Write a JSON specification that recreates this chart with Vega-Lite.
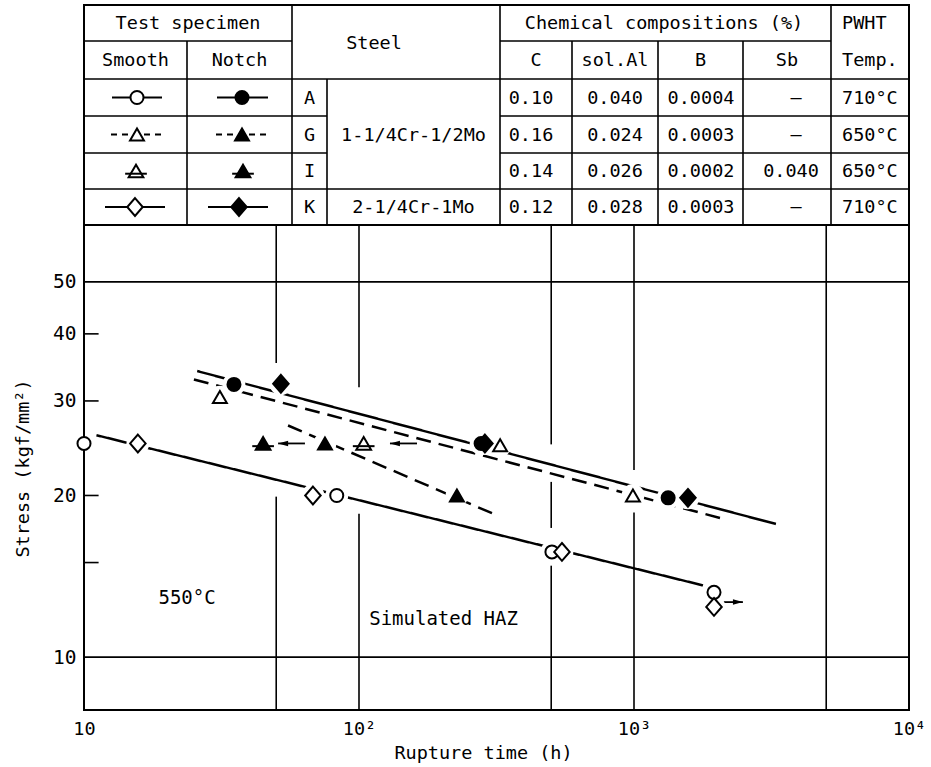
{
  "$schema": "https://vega.github.io/schema/vega-lite/v6.json",
  "padding": {"left": 12, "top": 3, "right": 0, "bottom": 0},
  "background": "white",
  "spacing": 0,
  "bounds": "flush",
  "config": {
    "view": {"stroke": "black", "strokeWidth": 2},
    "font": "DejaVu Sans Mono",
    "concat": {"spacing": 0},
    "axis": {"labelFont": "DejaVu Sans Mono", "titleFont": "DejaVu Sans Mono", "labelColor": "black", "titleColor": "black", "titleFontWeight": "normal"}
  },
  "datasets": {
    "tableLines": [
      {"x1": 0, "x2": 208, "y1": 36, "y2": 36},
      {"x1": 416, "x2": 747, "y1": 36, "y2": 36},
      {"x1": 0, "x2": 825, "y1": 74, "y2": 74},
      {"x1": 0, "x2": 243, "y1": 111, "y2": 111},
      {"x1": 416, "x2": 825, "y1": 111, "y2": 111},
      {"x1": 0, "x2": 243, "y1": 148, "y2": 148},
      {"x1": 416, "x2": 825, "y1": 148, "y2": 148},
      {"x1": 0, "x2": 825, "y1": 184, "y2": 184},
      {"x1": 103, "x2": 103, "y1": 36, "y2": 220},
      {"x1": 208, "x2": 208, "y1": 0, "y2": 220},
      {"x1": 243, "x2": 243, "y1": 74, "y2": 220},
      {"x1": 416, "x2": 416, "y1": 0, "y2": 220},
      {"x1": 488, "x2": 488, "y1": 36, "y2": 220},
      {"x1": 574, "x2": 574, "y1": 36, "y2": 220},
      {"x1": 659, "x2": 659, "y1": 36, "y2": 220},
      {"x1": 747, "x2": 747, "y1": 0, "y2": 220}
    ],
    "tableText": [
      {"text": "Test specimen", "x": 104, "y": 18, "col": "spec"},
      {"text": "Steel", "x": 290, "y": 38, "col": "steel"},
      {"text": "Chemical compositions (%)", "x": 580, "y": 18, "col": "chem"},
      {"text": "PWHT", "x": 758, "y": 18, "col": "PWHT"},
      {"text": "Smooth", "x": 51.5, "y": 55, "col": "spec"},
      {"text": "Notch", "x": 155.5, "y": 55, "col": "spec"},
      {"text": "C", "x": 452, "y": 55, "col": "C"},
      {"text": "sol.Al", "x": 531, "y": 55, "col": "Al"},
      {"text": "B", "x": 616.5, "y": 55, "col": "B"},
      {"text": "Sb", "x": 703, "y": 55, "col": "Sb"},
      {"text": "Temp.", "x": 758, "y": 55, "col": "PWHT"},
      {"text": "A", "x": 225.5, "y": 92.5, "col": "steel"},
      {"text": "G", "x": 225.5, "y": 129.5, "col": "steel"},
      {"text": "I", "x": 225.5, "y": 166, "col": "steel"},
      {"text": "K", "x": 225.5, "y": 202, "col": "steel"},
      {"text": "1-1/4Cr-1/2Mo", "x": 329.5, "y": 129.5, "col": "steel"},
      {"text": "2-1/4Cr-1Mo", "x": 329.5, "y": 202, "col": "steel"},
      {"text": "0.10", "x": 447, "y": 92.5, "col": "C"},
      {"text": "0.16", "x": 447, "y": 129.5, "col": "C"},
      {"text": "0.14", "x": 447, "y": 166, "col": "C"},
      {"text": "0.12", "x": 447, "y": 202, "col": "C"},
      {"text": "0.040", "x": 531, "y": 92.5, "col": "Al"},
      {"text": "0.024", "x": 531, "y": 129.5, "col": "Al"},
      {"text": "0.026", "x": 531, "y": 166, "col": "Al"},
      {"text": "0.028", "x": 531, "y": 202, "col": "Al"},
      {"text": "0.0004", "x": 617, "y": 92.5, "col": "B"},
      {"text": "0.0003", "x": 617, "y": 129.5, "col": "B"},
      {"text": "0.0002", "x": 617, "y": 166, "col": "B"},
      {"text": "0.0003", "x": 617, "y": 202, "col": "B"},
      {"text": "—", "x": 712, "y": 92.5, "col": "Sb"},
      {"text": "—", "x": 712, "y": 129.5, "col": "Sb"},
      {"text": "0.040", "x": 707, "y": 166, "col": "Sb"},
      {"text": "—", "x": 712, "y": 202, "col": "Sb"},
      {"text": "710°C", "x": 758, "y": 92.5, "col": "PWHT"},
      {"text": "650°C", "x": 758, "y": 129.5, "col": "PWHT"},
      {"text": "650°C", "x": 758, "y": 166, "col": "PWHT"},
      {"text": "710°C", "x": 758, "y": 202, "col": "PWHT"}
    ],
    "keyLines": [
      {"steel": "A", "specimen": "Smooth", "style": "solid", "x1": 28, "x2": 78, "y": 92.5},
      {"steel": "A", "specimen": "Notch", "style": "solid", "x1": 133, "x2": 184, "y": 92.5},
      {"steel": "G", "specimen": "Smooth", "style": "shortdash", "x1": 27, "x2": 78, "y": 129.5},
      {"steel": "G", "specimen": "Notch", "style": "shortdash", "x1": 132, "x2": 184, "y": 129.5},
      {"steel": "K", "specimen": "Smooth", "style": "solid", "x1": 21, "x2": 81, "y": 202},
      {"steel": "K", "specimen": "Notch", "style": "solid", "x1": 124, "x2": 184, "y": 202}
    ],
    "keyPoints": [
      {"steel": "A", "specimen": "Smooth", "x": 53, "y": 92.5},
      {"steel": "A", "specimen": "Notch", "x": 158, "y": 92.5},
      {"steel": "G", "specimen": "Smooth", "x": 53, "y": 129.5},
      {"steel": "G", "specimen": "Notch", "x": 158, "y": 129.5},
      {"steel": "I", "specimen": "Smooth", "x": 52, "y": 166},
      {"steel": "I", "specimen": "Notch", "x": 159, "y": 166},
      {"steel": "K", "specimen": "Smooth", "x": 51, "y": 202},
      {"steel": "K", "specimen": "Notch", "x": 155, "y": 202}
    ],
    "grid": [
      {"t1": 50, "t2": 50, "s1": 35.3, "s2": 63.8},
      {"t1": 50, "t2": 50, "s1": 7.97, "s2": 19.9},
      {"t1": 100, "t2": 100, "s1": 31.8, "s2": 63.8},
      {"t1": 100, "t2": 100, "s1": 7.97, "s2": 18.5},
      {"t1": 500, "t2": 500, "s1": 24.9, "s2": 63.8},
      {"t1": 500, "t2": 500, "s1": 17.4, "s2": 21.2},
      {"t1": 500, "t2": 500, "s1": 7.97, "s2": 14.8},
      {"t1": 1000, "t2": 1000, "s1": 22.3, "s2": 63.8},
      {"t1": 1000, "t2": 1000, "s1": 7.97, "s2": 18.6},
      {"t1": 5000, "t2": 5000, "s1": 7.97, "s2": 63.8},
      {"t1": 10, "t2": 10000, "s1": 50, "s2": 50},
      {"t1": 10, "t2": 10000, "s1": 10, "s2": 10},
      {"t1": 10, "t2": 11.3, "s1": 15, "s2": 15},
      {"t1": 10, "t2": 11.3, "s1": 20, "s2": 20},
      {"t1": 10, "t2": 11.3, "s1": 30, "s2": 30},
      {"t1": 10, "t2": 11.3, "s1": 40, "s2": 40}
    ],
    "fitLines": [
      {"line": "L1", "style": "solid", "t": 25.8, "s": 34.1},
      {"line": "L1", "style": "solid", "t": 3281, "s": 17.7},
      {"line": "L2", "style": "dashed", "t": 25.1, "s": 32.9},
      {"line": "L2", "style": "dashed", "t": 2109, "s": 18.1},
      {"line": "L3", "style": "dashed", "t": 55.2, "s": 27.0},
      {"line": "L3", "style": "dashed", "t": 307, "s": 18.5},
      {"line": "L4", "style": "solid", "t": 11.1, "s": 25.9},
      {"line": "L4", "style": "solid", "t": 1782, "s": 13.6}
    ],
    "points": [
      {"steel": "A", "specimen": "Smooth", "t": 10, "s": 25},
      {"steel": "A", "specimen": "Smooth", "t": 83, "s": 20},
      {"steel": "A", "specimen": "Smooth", "t": 503, "s": 15.7},
      {"steel": "A", "specimen": "Smooth", "t": 1954, "s": 13.2},
      {"steel": "K", "specimen": "Smooth", "t": 15.7, "s": 25},
      {"steel": "K", "specimen": "Smooth", "t": 68, "s": 20},
      {"steel": "K", "specimen": "Smooth", "t": 547, "s": 15.7},
      {"steel": "K", "specimen": "Smooth", "t": 1954, "s": 12.4},
      {"steel": "G", "specimen": "Smooth", "t": 31.2, "s": 30.5},
      {"steel": "G", "specimen": "Smooth", "t": 326, "s": 24.8},
      {"steel": "G", "specimen": "Smooth", "t": 991, "s": 20},
      {"steel": "I", "specimen": "Smooth", "t": 104, "s": 25},
      {"steel": "A", "specimen": "Notch", "t": 35.1, "s": 32.2},
      {"steel": "A", "specimen": "Notch", "t": 278, "s": 25},
      {"steel": "A", "specimen": "Notch", "t": 1331, "s": 19.8},
      {"steel": "K", "specimen": "Notch", "t": 52, "s": 32.3},
      {"steel": "K", "specimen": "Notch", "t": 287, "s": 25},
      {"steel": "K", "specimen": "Notch", "t": 1571, "s": 19.8},
      {"steel": "G", "specimen": "Notch", "t": 75.2, "s": 25},
      {"steel": "G", "specimen": "Notch", "t": 227, "s": 20},
      {"steel": "I", "specimen": "Notch", "t": 44.8, "s": 25}
    ],
    "arrows": [
      {"t1": 63.6, "t2": 50.8, "s": 25, "dir": "left"},
      {"t1": 162.5, "t2": 129.6, "s": 25, "dir": "left"},
      {"t1": 2021, "t2": 2489, "s": 12.66, "dir": "right"}
    ],
    "notes": [
      {"text": "550°C", "t": 23.7, "s": 12.9},
      {"text": "Simulated HAZ", "t": 203, "s": 11.8}
    ]
  },
  "vconcat": [
    {
      "width": 825,
      "height": 220,
      "layer": [
        {
          "data": {"name": "tableLines"},
          "mark": {"type": "rule", "stroke": "black", "strokeWidth": 1.6},
          "encoding": {
            "x": {"field": "x1", "type": "quantitative", "scale": {"domain": [0, 825], "nice": false, "zero": false}, "axis": null},
            "x2": {"field": "x2"},
            "y": {"field": "y1", "type": "quantitative", "scale": {"domain": [0, 220], "nice": false, "zero": false, "reverse": true}, "axis": null},
            "y2": {"field": "y2"}
          }
        },
        {
          "data": {"name": "tableText"},
          "transform": [{"filter": "datum.col !== 'PWHT'"}],
          "mark": {"type": "text", "font": "DejaVu Sans Mono", "fontSize": 18.5, "align": "center", "baseline": "middle", "color": "black"},
          "encoding": {
            "x": {"field": "x", "type": "quantitative"},
            "y": {"field": "y", "type": "quantitative"},
            "text": {"field": "text"}
          }
        },
        {
          "data": {"name": "tableText"},
          "transform": [{"filter": "datum.col === 'PWHT'"}],
          "mark": {"type": "text", "font": "DejaVu Sans Mono", "fontSize": 18.5, "align": "left", "baseline": "middle", "color": "black"},
          "encoding": {
            "x": {"field": "x", "type": "quantitative"},
            "y": {"field": "y", "type": "quantitative"},
            "text": {"field": "text"}
          }
        },
        {
          "data": {"name": "keyLines"},
          "mark": {"type": "rule", "stroke": "black", "strokeWidth": 2.2},
          "encoding": {
            "x": {"field": "x1", "type": "quantitative"},
            "x2": {"field": "x2"},
            "y": {"field": "y", "type": "quantitative"},
            "strokeDash": {"field": "style", "type": "nominal", "scale": {"domain": ["solid", "dashed", "shortdash"], "range": [[1, 0], [15, 8], [6, 5]]}, "legend": null}
          }
        },
        {
          "data": {"name": "keyPoints"},
          "mark": {"type": "point", "filled": true, "stroke": "black", "strokeWidth": 2, "opacity": 1},
          "encoding": {
            "x": {"field": "x", "type": "quantitative"},
            "y": {"field": "y", "type": "quantitative"},
            "shape": {"field": "steel", "type": "nominal", "scale": {"domain": ["A", "G", "I", "K"], "range": ["circle", "triangle-up", "triangle-up", "M0,-1.15L1,0L0,1.15L-1,0Z"]}, "legend": null},
            "size": {"field": "steel", "type": "nominal", "scale": {"domain": ["A", "G", "I", "K"], "range": [170, 240, 240, 200]}, "legend": null},
            "fill": {"field": "specimen", "type": "nominal", "scale": {"domain": ["Smooth", "Notch"], "range": ["white", "black"]}, "legend": null}
          }
        },
        {
          "data": {"name": "keyPoints"},
          "transform": [{"filter": "datum.steel === 'I'"}],
          "mark": {"type": "point", "filled": false, "shape": "M-1.4,0.35L1.4,0.35", "size": 240, "stroke": "black", "strokeWidth": 2, "opacity": 1},
          "encoding": {
            "x": {"field": "x", "type": "quantitative"},
            "y": {"field": "y", "type": "quantitative"}
          }
        }
      ]
    },
    {
      "width": 825,
      "height": 485,
      "layer": [
        {
          "data": {"name": "grid"},
          "mark": {"type": "rule", "stroke": "black", "strokeWidth": 1.6},
          "encoding": {
            "x": {"field": "t1", "type": "quantitative", "scale": {"type": "log", "domain": [10, 10000], "nice": false},
              "axis": {"orient": "bottom", "title": "Rupture time (h)", "values": [10, 100, 1000, 10000], "labelExpr": "datum.value == 10 ? '10' : datum.value == 100 ? '10²' : datum.value == 1000 ? '10³' : '10⁴'", "ticks": false, "domain": false, "grid": false, "labelFlush": false, "labelOverlap": false, "labelFontSize": 18.5, "labelPadding": 9, "titleFontSize": 18.5, "titleX": 399, "titleY": 42, "titleAlign": "center", "titleBaseline": "middle"}},
            "x2": {"field": "t2"},
            "y": {"field": "s1", "type": "quantitative", "scale": {"type": "log", "domain": [7.97, 63.8], "nice": false},
              "axis": {"orient": "left", "title": "Stress (kgf/mm²)", "values": [10, 20, 30, 40, 50], "labelExpr": "datum.value", "ticks": false, "domain": false, "grid": false, "labelOverlap": false, "labelFontSize": 19.5, "labelPadding": 8, "titleFontSize": 18.5, "titleX": -62, "titleY": 243, "titleAngle": -90, "titleAlign": "center", "titleBaseline": "middle"}},
            "y2": {"field": "s2"}
          }
        },
        {
          "data": {"name": "fitLines"},
          "mark": {"type": "line", "stroke": "black", "strokeWidth": 2.5},
          "encoding": {
            "x": {"field": "t", "type": "quantitative"},
            "y": {"field": "s", "type": "quantitative"},
            "detail": {"field": "line"},
            "strokeDash": {"field": "style", "type": "nominal", "scale": {"domain": ["solid", "dashed", "shortdash"], "range": [[1, 0], [15, 8], [6, 5]]}, "legend": null}
          }
        },
        {
          "data": {"name": "arrows"},
          "mark": {"type": "rule", "stroke": "black", "strokeWidth": 1.8},
          "encoding": {
            "x": {"field": "t1", "type": "quantitative"},
            "x2": {"field": "t2"},
            "y": {"field": "s", "type": "quantitative"}
          }
        },
        {
          "data": {"name": "arrows"},
          "transform": [{"filter": "datum.dir === 'left'"}],
          "mark": {"type": "point", "filled": true, "fill": "black", "strokeWidth": 0, "opacity": 1, "shape": "M0,0L2,-0.55L2,0.55Z", "size": 100},
          "encoding": {
            "x": {"field": "t2", "type": "quantitative"},
            "y": {"field": "s", "type": "quantitative"}
          }
        },
        {
          "data": {"name": "arrows"},
          "transform": [{"filter": "datum.dir === 'right'"}],
          "mark": {"type": "point", "filled": true, "fill": "black", "strokeWidth": 0, "opacity": 1, "shape": "M0,0L-2,-0.55L-2,0.55Z", "size": 100},
          "encoding": {
            "x": {"field": "t2", "type": "quantitative"},
            "y": {"field": "s", "type": "quantitative"}
          }
        },
        {
          "data": {"name": "points"},
          "transform": [{"filter": "datum.t > 10"}],
          "mark": {"type": "point", "filled": true, "fill": "white", "strokeWidth": 0, "opacity": 1, "shape": "circle", "size": 520},
          "encoding": {
            "x": {"field": "t", "type": "quantitative"},
            "y": {"field": "s", "type": "quantitative"}
          }
        },
        {
          "data": {"name": "points"},
          "mark": {"type": "point", "filled": true, "stroke": "black", "strokeWidth": 2, "opacity": 1},
          "encoding": {
            "x": {"field": "t", "type": "quantitative"},
            "y": {"field": "s", "type": "quantitative"},
            "shape": {"field": "steel", "type": "nominal", "scale": {"domain": ["A", "G", "I", "K"], "range": ["circle", "triangle-up", "triangle-up", "M0,-1.15L1,0L0,1.15L-1,0Z"]}, "legend": null},
            "size": {"field": "steel", "type": "nominal", "scale": {"domain": ["A", "G", "I", "K"], "range": [170, 240, 240, 200]}, "legend": null},
            "fill": {"field": "specimen", "type": "nominal", "scale": {"domain": ["Smooth", "Notch"], "range": ["white", "black"]}, "legend": null}
          }
        },
        {
          "data": {"name": "points"},
          "transform": [{"filter": "datum.steel === 'I'"}],
          "mark": {"type": "point", "filled": false, "shape": "M-1.4,0.35L1.4,0.35", "size": 240, "stroke": "black", "strokeWidth": 2, "opacity": 1},
          "encoding": {
            "x": {"field": "t", "type": "quantitative"},
            "y": {"field": "s", "type": "quantitative"}
          }
        },
        {
          "data": {"name": "notes"},
          "mark": {"type": "text", "font": "DejaVu Sans Mono", "fontSize": 19, "align": "center", "baseline": "middle", "color": "black"},
          "encoding": {
            "x": {"field": "t", "type": "quantitative"},
            "y": {"field": "s", "type": "quantitative"},
            "text": {"field": "text"}
          }
        }
      ]
    }
  ]
}
